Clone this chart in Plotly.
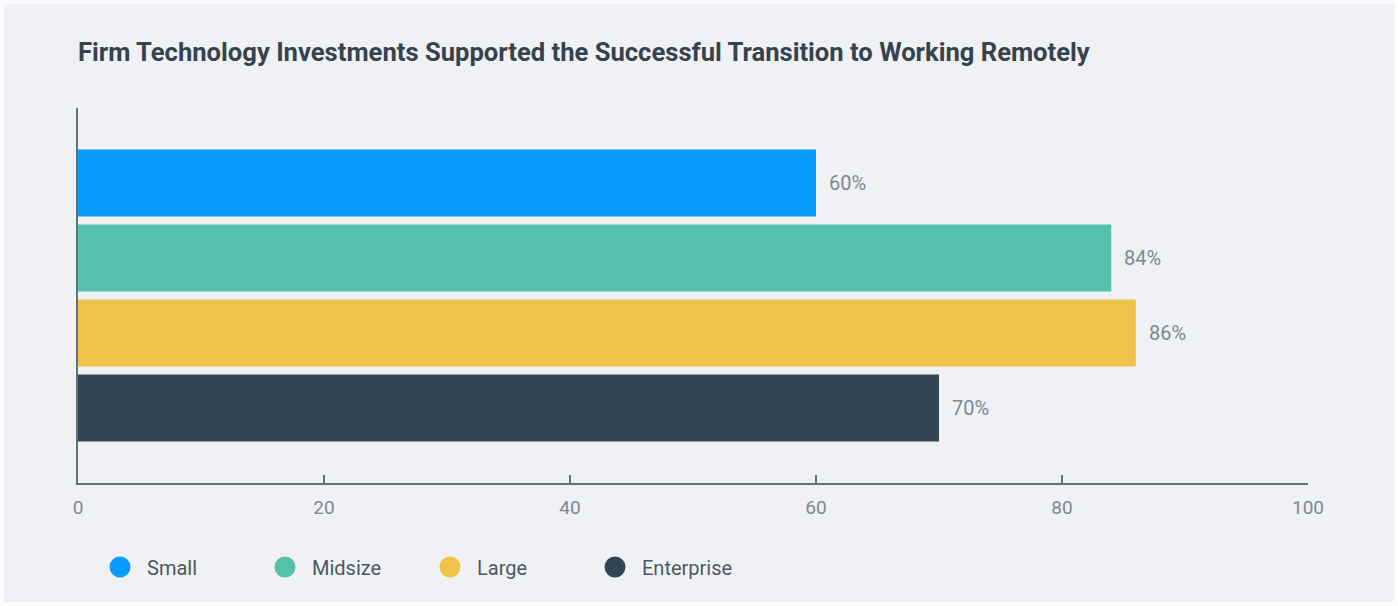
import plotly.graph_objects as go

# Survey shares by firm size
firm_sizes = ["Small", "Midsize", "Large", "Enterprise"]
shares = [60, 84, 86, 70]
bar_colors = ["#0a9bff", "#55c1aa", "#edc348", "#334453"]
tick_values = [0, 20, 40, 60, 80, 100]

W, H = 1398, 606
ML, MR, MT, MB = 78, 90, 108, 123
BG = "#f0f1f5"
AXIS = "#5f717b"
TICK_TXT = "#7b8891"
FONT = "Roboto, Inter, sans-serif"

fig = go.Figure()

for name, val, col in zip(firm_sizes, shares, bar_colors):
    fig.add_trace(go.Bar(
        x=[val], y=[name], orientation="h",
        marker=dict(color=col, line=dict(width=0)),
        showlegend=False, hoverinfo="x+y", name=name,
    ))

# Round legend markers
for name, col in zip(firm_sizes, bar_colors):
    fig.add_trace(go.Scatter(
        x=[None], y=[None], mode="markers", name=name,
        marker=dict(symbol="circle", size=16, color=col,
                    line=dict(color=col, width=5)),
    ))

# Value labels to the right of each bar
for name, val in zip(firm_sizes, shares):
    fig.add_annotation(
        x=val, y=name, text=f"{val}%", showarrow=False,
        xanchor="left", yanchor="middle", xshift=11,
        font=dict(family=FONT, size=20, color=TICK_TXT),
    )

# Thin light frame around the page
pw, ph = W - ML - MR, H - MT - MB
fig.add_shape(
    type="rect", xref="paper", yref="paper",
    x0=-ML / pw, x1=(W - ML) / pw, y0=-MB / ph, y1=(H - MB) / ph,
    line=dict(color="#fbfbfd", width=8), fillcolor="rgba(0,0,0,0)", layer="below",
)

fig.update_layout(
    width=W, height=H,
    margin=dict(l=ML, r=MR, t=MT, b=MB),
    paper_bgcolor=BG, plot_bgcolor=BG,
    barmode="overlay", bargap=0.107,
    title=dict(
        text="<b>Firm Technology Investments Supported the Successful Transition to Working Remotely</b>",
        x=78 / W, xanchor="left", y=1 - 52 / H, yanchor="middle",
        font=dict(family=FONT, size=25.6, color="#36434d"),
    ),
    xaxis=dict(
        range=[0, 100], tickvals=tick_values, showgrid=False, zeroline=False,
        showline=True, linecolor=AXIS, linewidth=2,
        ticks="inside", ticklen=8, tickwidth=2, tickcolor=AXIS,
        ticklabelstandoff=6,
        tickfont=dict(family=FONT, size=19, color=TICK_TXT),
        fixedrange=True,
    ),
    yaxis=dict(
        categoryorder="array", categoryarray=firm_sizes,
        range=[4, -1], showticklabels=False, showgrid=False, zeroline=False,
        showline=True, linecolor=AXIS, linewidth=2, ticks="",
        fixedrange=True,
    ),
    legend=dict(
        orientation="h", x=93 / W, xref="container", xanchor="left",
        y=1 - 567 / H, yref="container", yanchor="middle",
        font=dict(family=FONT, size=20, color="#4c5862"),
        itemsizing="trace", itemwidth=44, entrywidth=106,
        bgcolor="rgba(0,0,0,0)",
    ),
)

fig.write_html("out.html")
